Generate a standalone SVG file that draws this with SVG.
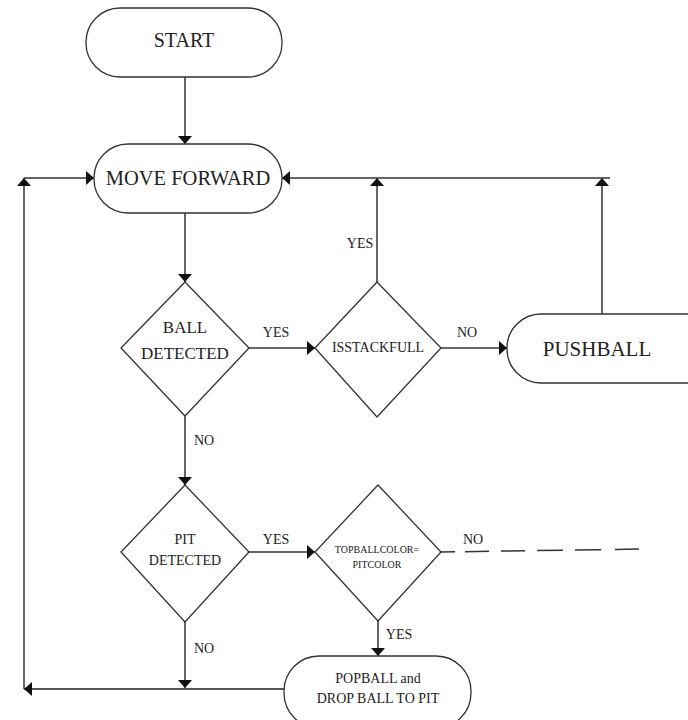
<svg xmlns="http://www.w3.org/2000/svg" width="688" height="720" viewBox="0 0 688 720">
<style>
.shape{fill:#fff;stroke:#333;stroke-width:1.3}
.ln{fill:none;stroke:#333;stroke-width:1.5}
.ah{marker-end:url(#arr)}
text{font-family:"Liberation Serif","Times New Roman",serif;fill:#222;text-anchor:middle;dominant-baseline:central}
.lbl{font-size:14px}
</style>
<defs>
<marker id="arr" viewBox="0 0 8 14" refX="8" refY="7" markerWidth="8" markerHeight="14" markerUnits="userSpaceOnUse" orient="auto">
<path d="M0,0 L8,7 L0,14 z" fill="#111"/>
</marker>
</defs>
<rect width="688" height="720" fill="#fff"/>
<g id="connectors">
<line class="ln ah" x1="185" y1="77" x2="185" y2="144"/>
<line class="ln ah" x1="185" y1="213" x2="185" y2="282"/>
<line class="ln ah" x1="249" y1="348" x2="315" y2="348"/>
<line class="ln ah" x1="441" y1="348" x2="507" y2="348"/>
<line class="ln ah" x1="377" y1="282" x2="377" y2="178"/>
<line class="ln ah" x1="602" y1="314" x2="602" y2="178"/>
<line class="ln ah" x1="610" y1="178" x2="282" y2="178"/>
<line class="ln ah" x1="185" y1="416" x2="185" y2="485"/>
<line class="ln ah" x1="249" y1="552" x2="315" y2="552"/>
<line class="ln" x1="441" y1="552" x2="645" y2="549" stroke-dasharray="14 10 24 12 24 12 26 12 26 14 24"/>
<line class="ln ah" x1="378" y1="621" x2="378" y2="656"/>
<line class="ln ah" x1="185" y1="622" x2="185" y2="688"/>
<line class="ln ah" x1="284" y1="689" x2="24" y2="689" style="stroke:#555;stroke-width:2"/>
<line class="ln ah" x1="24" y1="689" x2="24" y2="178"/>
<line class="ln ah" x1="24" y1="178" x2="94" y2="178"/>
<text class="lbl" x="360" y="243">YES</text>
<text class="lbl" x="276" y="332">YES</text>
<text class="lbl" x="467" y="332">NO</text>
<text class="lbl" x="204" y="440">NO</text>
<text class="lbl" x="276" y="539">YES</text>
<text class="lbl" x="473" y="539">NO</text>
<text class="lbl" x="399" y="634">YES</text>
<text class="lbl" x="204" y="648">NO</text>
</g>
<g id="start">
<rect class="shape" x="86" y="8" width="196" height="69" rx="34" ry="34"/>
<text x="184" y="40" font-size="20">START</text>
</g>
<g id="move-forward">
<rect class="shape" x="94" y="144" width="188" height="69" rx="34" ry="34"/>
<text x="188" y="178" font-size="20.5">MOVE FORWARD</text>
</g>
<g id="ball-detected">
<polygon class="shape" points="185,282 249,348 185,416 121,348"/>
<text x="185" y="327" font-size="17">BALL</text>
<text x="185" y="353" font-size="17">DETECTED</text>
</g>
<g id="isstackfull">
<polygon class="shape" points="377,282 441,348 377,417 315,348"/>
<text x="378" y="347" font-size="14">ISSTACKFULL</text>
</g>
<g id="pushball">
<rect class="shape" x="507" y="314" width="220" height="69" rx="34" ry="34"/>
<text x="597" y="349" font-size="21">PUSHBALL</text>
</g>
<g id="pit-detected">
<polygon class="shape" points="185,485 249,552 185,622 121,552"/>
<text x="185" y="539" font-size="14">PIT</text>
<text x="185" y="560" font-size="14">DETECTED</text>
</g>
<g id="topballcolor">
<polygon class="shape" points="378,485 441,552 378,621 315,552"/>
<text x="377" y="549" font-size="10">TOPBALLCOLOR=</text>
<text x="377" y="564" font-size="10">PITCOLOR</text>
</g>
<g id="popball">
<rect class="shape" x="284" y="656" width="187" height="72" rx="35" ry="35"/>
<text x="378" y="678" font-size="14">POPBALL and</text>
<text x="378" y="698" font-size="14">DROP BALL TO PIT</text>
</g>
</svg>
